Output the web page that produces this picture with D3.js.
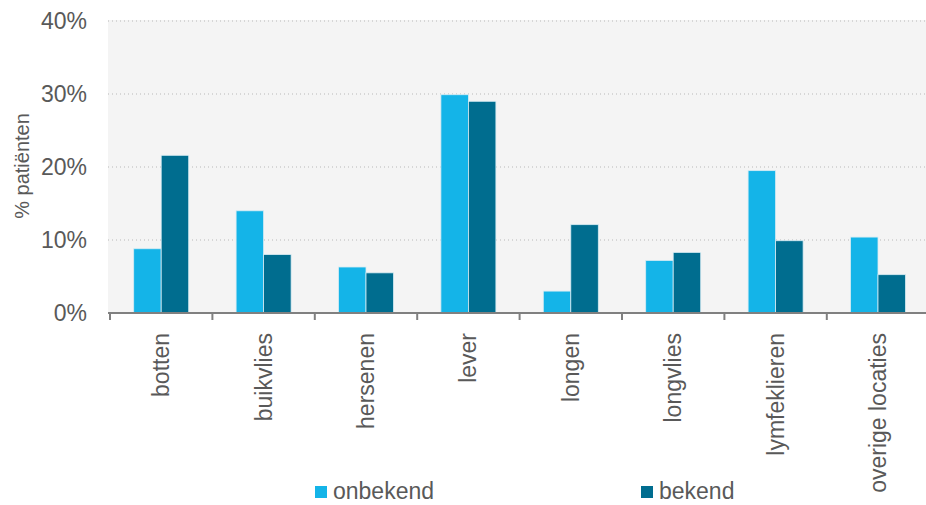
<!DOCTYPE html>
<html><head><meta charset="utf-8">
<script src="https://cdn.jsdelivr.net/npm/d3@7"></script>
<style>
html,body{margin:0;padding:0;background:#fff;}
svg{display:block;font-family:"Liberation Sans",Arial,sans-serif;}
</style></head>
<body>
<svg id="chart" width="926" height="505"></svg>
<script>
const categories = ["botten","buikvlies","hersenen","lever","longen","longvlies","lymfeklieren","overige locaties"];
const seriesNames = ["onbekend","bekend"];
const onbekend = [8.8, 14.0, 6.3, 29.9, 3.0, 7.2, 19.5, 10.4];
const bekend   = [21.6, 8.0, 5.5, 29.0, 12.1, 8.3, 9.9, 5.25];
const yTicks = [0, 10, 20, 30, 40];
const colors = ["#14b4e8", "#006d8f"];

const svg = d3.select("#chart");
const textColor = "#595959";

const x0 = d3.scaleBand().domain(categories).range([110, 929.2]).padding(0);
const bw = x0.bandwidth();
const x1 = d3.scaleBand().domain(seriesNames).range([bw/2 - 27.5, bw/2 + 27.5]).padding(0);
const y = d3.scaleLinear().domain([0, 40]).range([313, 21]);

// plot background
svg.append("rect").attr("x", 108).attr("y", y(40)-1).attr("width", 926-108).attr("height", y(0)-y(40)+1).attr("fill", "#f4f4f4");

// gridlines
svg.append("g").selectAll("line").data(yTicks.filter(d => d > 0)).join("line")
  .attr("x1", 108).attr("x2", 926)
  .attr("y1", d => y(d)).attr("y2", d => y(d))
  .attr("stroke", "#b8b8b8").attr("stroke-width", 1).attr("stroke-dasharray", "1,3");

// y tick labels
svg.append("g").selectAll("text").data(yTicks).join("text")
  .attr("x", 87).attr("y", d => y(d)).attr("dy", "0.36em")
  .attr("text-anchor", "end").attr("font-size", 23).attr("fill", textColor)
  .text(d => d + "%");

// y title
svg.append("text")
  .attr("transform", "translate(22,166) rotate(-90)")
  .attr("text-anchor", "middle").attr("dy", "0.35em")
  .attr("font-size", 20).attr("fill", textColor)
  .text("% patiënten");

// bars
const data = categories.map((c, i) => ({cat: c, vals: [onbekend[i], bekend[i]]}));
const groups = svg.append("g").selectAll("g").data(data).join("g")
  .attr("transform", d => `translate(${x0(d.cat)},0)`);
groups.selectAll("rect").data(d => d.vals.map((v, j) => ({s: seriesNames[j], v, j}))).join("rect")
  .attr("x", d => x1(d.s)).attr("width", x1.bandwidth())
  .attr("y", d => y(d.v)).attr("height", d => y(0) - y(d.v))
  .attr("fill", d => colors[d.j])
  .attr("stroke", "#d6ecf3").attr("stroke-width", 0.8);

// x axis line and ticks
const axisG = svg.append("g");
axisG.append("line").attr("x1", 108).attr("x2", 926).attr("y1", y(0)).attr("y2", y(0))
  .attr("stroke", "#808080").attr("stroke-width", 2);
axisG.selectAll("line.tick").data(categories).join("line").attr("class", "tick")
  .attr("x1", d => x0(d)).attr("x2", d => x0(d))
  .attr("y1", y(0)).attr("y2", y(0) + 7)
  .attr("stroke", "#808080").attr("stroke-width", 2);

// category labels
svg.append("g").selectAll("text").data(categories).join("text")
  .attr("transform", d => `translate(${x0(d) + bw/2},333) rotate(-90)`)
  .attr("text-anchor", "end").attr("dy", "0.35em")
  .attr("font-size", 23).attr("fill", textColor)
  .text(d => d);

// legend
const legendX = [315, 641];
const leg = svg.append("g").selectAll("g").data(seriesNames).join("g")
  .attr("transform", (d, i) => `translate(${legendX[i]},486)`);
leg.append("rect").attr("width", 12).attr("height", 12).attr("fill", (d, i) => colors[i]);
leg.append("text").attr("x", 18).attr("y", 13).attr("font-size", 23).attr("fill", textColor).text(d => d);
</script>
</body></html>
